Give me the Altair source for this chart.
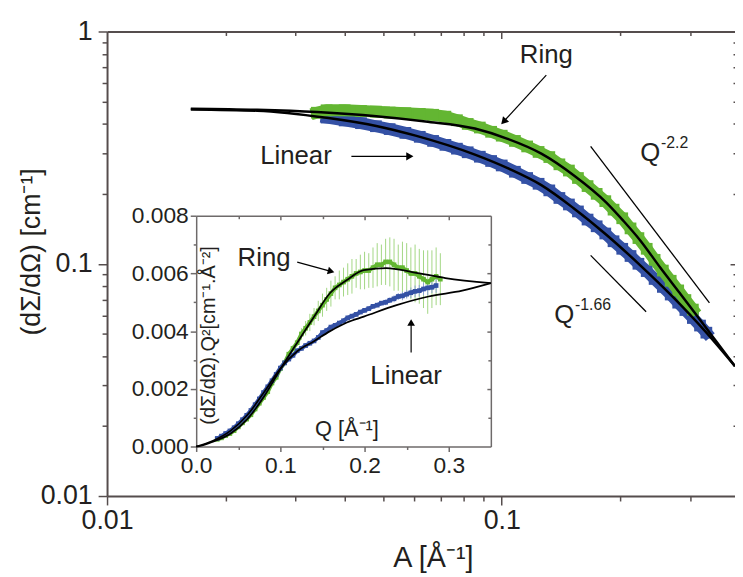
import altair as alt
import pandas as pd

FONT = "Liberation Sans"
INK = "#231f20"
AXC = "#554d4d"
IAXC = "#6e6a6a"
BLUE = "#3451a5"
GREEN = "#63b632"
GREEN_ERR = "#a3d784"
BLUE_ERR = "#8da0d8"

# ---------------- main panel (log-log) ----------------
green_q = [0.034, 0.036, 0.040, 0.044, 0.048, 0.052, 0.057, 0.062, 0.067,
           0.072, 0.077, 0.082, 0.088, 0.094, 0.100, 0.108, 0.116, 0.124, 0.132,
           0.140, 0.148, 0.156, 0.165, 0.174, 0.183, 0.192, 0.202, 0.212, 0.222,
           0.233, 0.244, 0.256, 0.268, 0.280, 0.292, 0.305]
green_i = [0.447, 0.458, 0.458, 0.455, 0.452, 0.448, 0.445, 0.442, 0.438,
           0.430, 0.415, 0.400, 0.386, 0.370, 0.356, 0.338, 0.320, 0.303, 0.288,
           0.268, 0.252, 0.234, 0.216, 0.200, 0.186, 0.171, 0.157, 0.142, 0.129,
           0.116, 0.104, 0.0935, 0.0845, 0.0768, 0.0698, 0.0635]

blue_q = [0.036, 0.040, 0.044, 0.048, 0.052, 0.057, 0.062, 0.067,
          0.072, 0.077, 0.082, 0.088, 0.094, 0.100, 0.108, 0.116, 0.124, 0.132,
          0.140, 0.148, 0.156, 0.165, 0.174, 0.183, 0.192, 0.202, 0.212, 0.222,
          0.233, 0.244, 0.256, 0.268, 0.280, 0.292, 0.305, 0.318, 0.330]
blue_i = [0.426, 0.414, 0.403, 0.391, 0.380, 0.366, 0.352, 0.338,
          0.325, 0.313, 0.302, 0.289, 0.277, 0.265, 0.249, 0.234, 0.221, 0.207,
          0.192, 0.180, 0.168, 0.155, 0.145, 0.135, 0.125, 0.116, 0.108, 0.100,
          0.093, 0.086, 0.0795, 0.0737, 0.068, 0.0632, 0.0584, 0.0542, 0.0505]

ring_fit_q = [0.0163, 0.024, 0.034, 0.0481, 0.0641, 0.0855, 0.1035, 0.126, 0.1524,
              0.1844, 0.2034, 0.2244, 0.2518, 0.2826, 0.3046, 0.39]
ring_fit_i = [0.465, 0.460, 0.450, 0.432, 0.410, 0.382, 0.345, 0.298, 0.240,
              0.183, 0.153, 0.126, 0.0966, 0.0748, 0.0633, 0.0362]

lin_fit_q = [0.0163, 0.024, 0.036, 0.0481, 0.0605, 0.0855, 0.1035, 0.126, 0.1524,
             0.1844, 0.2244, 0.2714, 0.3284, 0.39]
lin_fit_i = [0.462, 0.456, 0.425, 0.392, 0.356, 0.295, 0.258, 0.218, 0.173,
             0.133, 0.0985, 0.072, 0.051, 0.0362]

guide22_q = [0.168, 0.336]
guide22_i = [0.320, 0.0679]
guide166_q = [0.168, 0.2322]
guide166_i = [0.1087, 0.0621]

# ---------------- inset (linear) ----------------
in_green_q = [0.025, 0.03, 0.035, 0.04, 0.045, 0.05, 0.055, 0.06, 0.065, 0.07,
              0.075, 0.08, 0.085, 0.09, 0.095, 0.10, 0.105, 0.11, 0.115, 0.12,
              0.125, 0.13, 0.135, 0.14, 0.145, 0.15, 0.155, 0.16, 0.165, 0.17,
              0.175, 0.18, 0.185, 0.19, 0.195, 0.20, 0.205, 0.21, 0.215, 0.22,
              0.225, 0.23, 0.235, 0.24, 0.245, 0.25, 0.255, 0.26, 0.265, 0.27,
              0.275, 0.28, 0.285, 0.29]
in_green_v = [0.00025, 0.0003, 0.00038, 0.00045, 0.00055, 0.00068, 0.00082, 0.00095, 0.0011, 0.0013,
              0.0015, 0.0017, 0.0019, 0.0022, 0.0024, 0.0027, 0.0029, 0.0032, 0.0034, 0.0036,
              0.0039, 0.0041, 0.0043, 0.0045, 0.0047, 0.0049, 0.0051, 0.0053, 0.0055, 0.0056,
              0.0057, 0.0058, 0.0059, 0.0060, 0.00605, 0.0061, 0.0061, 0.0062, 0.0063, 0.0063,
              0.0064, 0.0064, 0.0063, 0.0062, 0.0062, 0.0061, 0.0060, 0.0060, 0.0059, 0.0058,
              0.0057, 0.0058, 0.0059, 0.0058]
in_green_err = [0.00005, 0.00005, 0.00005, 0.00005, 0.00005, 0.00005, 0.00005, 0.00005, 0.00005, 0.00005,
                0.0001, 0.0001, 0.0001, 0.0001, 0.0001, 0.0001, 0.0001, 0.0001, 0.0001, 0.0001,
                0.0002, 0.00025, 0.0003, 0.0003, 0.00035, 0.0004, 0.0004, 0.00045, 0.0004, 0.0005,
                0.0005, 0.00055, 0.0006, 0.0005, 0.0006, 0.00065, 0.0006, 0.0007, 0.00075, 0.0007,
                0.0008, 0.00085, 0.0009, 0.0008, 0.0009, 0.00095, 0.0009, 0.001, 0.00095, 0.001,
                0.0011, 0.001, 0.001, 0.0009]

in_blue_q = [0.025, 0.03, 0.035, 0.04, 0.045, 0.05, 0.055, 0.06, 0.065, 0.07,
             0.075, 0.08, 0.085, 0.09, 0.095, 0.10, 0.105, 0.11, 0.115, 0.12,
             0.125, 0.13, 0.135, 0.14, 0.145, 0.15, 0.155, 0.16, 0.165, 0.17,
             0.175, 0.18, 0.185, 0.19, 0.195, 0.20, 0.205, 0.21, 0.215, 0.22,
             0.225, 0.23, 0.235, 0.24, 0.245, 0.25, 0.255, 0.26, 0.265, 0.27,
             0.275, 0.28, 0.285]
in_blue_v = [0.00028, 0.00036, 0.00045, 0.00054, 0.00065, 0.00079, 0.00093, 0.00108, 0.00125, 0.00145,
             0.00165, 0.00187, 0.00207, 0.00228, 0.0025, 0.00272, 0.0029, 0.00303, 0.00316, 0.00332,
             0.0034, 0.0035, 0.00358, 0.00366, 0.00378, 0.00395, 0.00402, 0.00414, 0.0042, 0.00428,
             0.00436, 0.00446, 0.00452, 0.00458, 0.00466, 0.00472, 0.00478, 0.00486, 0.0049, 0.00497,
             0.005, 0.00507, 0.00512, 0.0052, 0.00522, 0.00528, 0.00533, 0.00538, 0.0054, 0.00546,
             0.0055, 0.00552, 0.00558]
in_blue_err = [0.00005, 0.00005, 0.00005, 0.00005, 0.00005, 0.00005, 0.00005, 0.00005, 0.00005, 0.00005,
               0.00005, 0.00005, 0.00005, 0.00005, 0.00005, 0.00005, 0.00005, 0.00005, 0.00005, 0.00005,
               0.00005, 0.00005, 0.00005, 0.00005, 0.00005, 0.00005, 0.00005, 0.00005, 0.00005, 0.00005,
               0.00005, 0.00005, 0.00005, 0.00005, 0.00005, 0.00005, 0.00005, 0.00005, 0.00005, 0.00005,
               0.0001, 0.0001, 0.00012, 0.00012, 0.00015, 0.00015, 0.00018, 0.0002, 0.0002, 0.00022,
               0.00025, 0.0002, 0.00025]

in_ring_fit_q = [0, 0.006, 0.02, 0.041, 0.061, 0.081, 0.100, 0.120, 0.140, 0.159,
                 0.179, 0.199, 0.226, 0.258, 0.296, 0.35]
in_ring_fit_v = [0, 0.00003, 0.00017, 0.00045, 0.00096, 0.00175, 0.00268, 0.00360, 0.00450, 0.00532,
                 0.00577, 0.00611, 0.00618, 0.00604, 0.00584, 0.00566]
in_lin_fit_q = [0, 0.02, 0.041, 0.061, 0.081, 0.100, 0.120, 0.140, 0.159, 0.179,
                0.199, 0.238, 0.276, 0.316, 0.35]
in_lin_fit_v = [0, 0.0002, 0.00055, 0.0011, 0.0019, 0.0027, 0.0033, 0.00365, 0.0040, 0.0043,
                0.0045, 0.0049, 0.0052, 0.0054, 0.00566]

# ---------------- geometry ----------------
W, H = 634, 469
xs = alt.Scale(type="log", domain=[0.01, 0.39], nice=False)
ys = alt.Scale(type="log", domain=[0.01, 1.0], nice=False)
xs_in = alt.Scale(domain=[0, 0.35], range=[90, 387.5], nice=False, zero=False)
ys_in = alt.Scale(domain=[0, 0.008], range=[419, 186], nice=False, zero=False)


def ax(**kw):
    base = dict(grid=False, labelFont=FONT, titleFont=FONT, labelColor=INK, titleColor=INK,
                domainColor=AXC, tickColor=AXC, tickWidth=1.5, labelOverlap=False,
                labelFlush=False, title=None)
    base.update(kw)
    return alt.Axis(**base)


x_minor = [0.02, 0.03, 0.04, 0.05, 0.06, 0.07, 0.08, 0.09, 0.2, 0.3]
y_minor = [0.02, 0.03, 0.04, 0.05, 0.06, 0.07, 0.08, 0.09,
           0.2, 0.3, 0.4, 0.5, 0.6, 0.7, 0.8, 0.9]

mx_major = ax(orient="bottom", values=[0.01, 0.1], labelExpr="datum.value < 0.05 ? '0.01' : '0.1'",
              tickSize=9, domainWidth=2, labelFontSize=27, labelPadding=3,
              title="A [Å⁻¹]", titleFontSize=29, titleFontWeight="normal",
              titleX=329, titleY=62, titleAlign="center", titleBaseline="middle")
mx_minor = ax(orient="bottom", values=x_minor, labels=False, tickSize=5, domain=False)
my_major = ax(orient="left", values=[0.01, 0.1, 1.0],
              labelExpr="datum.value < 0.05 ? '0.01' : (datum.value < 0.5 ? '0.1' : '1')",
              tickSize=9, domainWidth=2, labelFontSize=27, labelPadding=6,
              title="(dΣ/dΩ) [cm⁻¹]", titleFontSize=27, titleFontWeight="normal",
              titleX=-76, titleY=222, titleAngle=270, titleAlign="center", titleBaseline="middle")
my_minor = ax(orient="left", values=y_minor, labels=False, tickSize=5, domain=False)
top_major = ax(orient="bottom", offset=-H, values=[0.1], labels=False, tickSize=7, domainWidth=2)
top_minor = ax(orient="bottom", offset=-H, values=x_minor, labels=False, tickSize=4, domain=False)
right_major = ax(orient="left", offset=-(W + 3), values=[0.1], labels=False, tickSize=8, domain=False)
right_minor = ax(orient="left", offset=-(W + 3), values=y_minor, labels=False, tickSize=5, domain=False)

df_green = pd.DataFrame({"q": green_q, "i": green_i})
df_blue = pd.DataFrame({"q": blue_q, "i": blue_i})
df_ring_fit = pd.DataFrame({"q": ring_fit_q, "i": ring_fit_i})
df_lin_fit = pd.DataFrame({"q": lin_fit_q, "i": lin_fit_i})
df_guides = pd.DataFrame({"id": ["a", "a", "b", "b"],
                          "q": guide22_q + guide166_q, "i": guide22_i + guide166_i})
df_main_arrows = pd.DataFrame({"id": ["r", "r", "l", "l"],
                               "q": [0.1297, 0.1016, 0.0416, 0.0581],
                               "i": [0.649, 0.4128, 0.290, 0.290]})
df_main_heads = pd.DataFrame({"q": [0.1016, 0.0581], "i": [0.4128, 0.290], "ang": [222.6, 90]})
df_main_big = pd.DataFrame({"q": [0.1297, 0.0301], "i": [0.790, 0.290], "t": ["Ring", "Linear"]})
df_main_q = pd.DataFrame({"q": [0.2244, 0.1358], "i": [0.2988, 0.0603], "t": ["Q", "Q"]})
df_main_sup = pd.DataFrame({"q": [0.2532, 0.1533], "i": [0.3297, 0.0665], "t": ["-2.2", "-1.66"]})


def mx(axis=None):
    return alt.X("q:Q", scale=xs, axis=axis)


def my(axis=None):
    return alt.Y("i:Q", scale=ys, axis=axis)


main_layers = [
    alt.Chart(df_blue).mark_line(color=BLUE, strokeWidth=12, strokeJoin="round", strokeCap="square")
    .encode(x=mx(mx_major), y=my(my_major)),
    alt.Chart(df_blue).mark_square(color=BLUE, size=140, opacity=1)
    .encode(x=mx(mx_minor), y=my(my_minor)),
    alt.Chart(df_green).mark_line(color=GREEN, strokeWidth=12, strokeJoin="round", strokeCap="square")
    .encode(x=mx(top_major), y=my(right_major)),
    alt.Chart(df_green).mark_square(color=GREEN, size=140, opacity=1)
    .encode(x=mx(top_minor), y=my(right_minor)),
    alt.Chart(df_ring_fit).mark_line(color="black", strokeWidth=2.5, interpolate="monotone")
    .encode(x=mx(), y=my()),
    alt.Chart(df_lin_fit).mark_line(color="black", strokeWidth=2.5, interpolate="monotone")
    .encode(x=mx(), y=my()),
    alt.Chart(df_guides).mark_line(color="black", strokeWidth=1.3)
    .encode(x=mx(), y=my(), detail="id:N"),
    alt.Chart(df_main_arrows).mark_line(color="black", strokeWidth=1.2)
    .encode(x=mx(), y=my(), detail="id:N"),
    alt.Chart(df_main_heads).mark_point(shape="triangle", size=70, filled=True, color="black",
                                        opacity=1, strokeWidth=0)
    .encode(x=mx(), y=my(), angle=alt.Angle("ang:Q", scale=None)),
    alt.Chart(df_main_big).mark_text(font=FONT, fontSize=26, color=INK, align="center", baseline="middle")
    .encode(x=mx(), y=my(), text="t:N"),
    alt.Chart(df_main_q).mark_text(font=FONT, fontSize=26, color=INK, align="left", baseline="middle")
    .encode(x=mx(), y=my(), text="t:N"),
    alt.Chart(df_main_sup).mark_text(font=FONT, fontSize=16, color=INK, align="left", baseline="middle")
    .encode(x=mx(), y=my(), text="t:N"),
]
main = alt.layer(*main_layers).resolve_axis(x="independent", y="independent")

# ---------------- inset ----------------
ix_major = ax(orient="bottom", offset=-50, values=[0, 0.1, 0.2, 0.3], format=".1f", tickSize=5,
              labelFontSize=23, labelPadding=3, domainWidth=1.5, domainColor=IAXC, tickColor=IAXC)
ix_minor = ax(orient="bottom", offset=-50, values=[0.05, 0.15, 0.25], labels=False, tickSize=3,
              domain=False, tickColor=IAXC)
iy_major = ax(orient="left", offset=-90, values=[0, 0.002, 0.004, 0.006, 0.008], format=".3f",
              tickSize=6, labelFontSize=23, labelPadding=2, domainWidth=1.5, domainColor=IAXC,
              tickColor=IAXC)
iy_minor = ax(orient="left", offset=-90, values=[0.001, 0.003, 0.005, 0.007], labels=False,
              tickSize=3, domain=False, tickColor=IAXC)
itop_major = ax(orient="bottom", offset=-283, values=[0.1, 0.2, 0.3], labels=False, tickSize=4,
                domainWidth=1.5, domainColor=IAXC, tickColor=IAXC)
itop_minor = ax(orient="bottom", offset=-283, values=[0.05, 0.15, 0.25], labels=False, tickSize=3,
                domain=False, tickColor=IAXC)
iright_major = ax(orient="left", offset=-387.5, values=[0.002, 0.004, 0.006], labels=False,
                  tickSize=4, domainWidth=1.5, domainColor=IAXC, tickColor=IAXC)
iright_minor = ax(orient="left", offset=-387.5, values=[0.001, 0.003, 0.005, 0.007], labels=False,
                  tickSize=3, domain=False, tickColor=IAXC)

df_ig = pd.DataFrame({"q": in_green_q, "v": in_green_v, "e": in_green_err})
df_ig["lo"] = df_ig["v"] - df_ig["e"]
df_ig["hi"] = df_ig["v"] + df_ig["e"]
df_ib = pd.DataFrame({"q": in_blue_q, "v": in_blue_v, "e": in_blue_err})
df_ib["lo"] = df_ib["v"] - df_ib["e"]
df_ib["hi"] = df_ib["v"] + df_ib["e"]
df_irf = pd.DataFrame({"q": in_ring_fit_q, "v": in_ring_fit_v})
df_ilf = pd.DataFrame({"q": in_lin_fit_q, "v": in_lin_fit_v})
df_in_arrows = pd.DataFrame({"id": ["r", "r", "l", "l"],
                             "q": [0.12, 0.159, 0.2553, 0.2553],
                             "v": [0.00639, 0.00608, 0.00326, 0.00426]})
df_in_heads = pd.DataFrame({"q": [0.159, 0.2553], "v": [0.00608, 0.00426], "ang": [105, 0]})
df_in_big = pd.DataFrame({"q": [0.0806, 0.2494], "v": [0.00652, 0.00244], "t": ["Ring", "Linear"]})
df_in_xt = pd.DataFrame({"q": [0.179], "v": [0.00062], "t": ["Q [Å⁻¹]"]})
df_in_yt = pd.DataFrame({"q": [0.0153], "v": [0.00385], "t": ["(dΣ/dΩ).Q²[cm⁻¹.Å⁻²]"]})


def ix(axis=None):
    return alt.X("q:Q", scale=xs_in, axis=axis)


def iy(field="v:Q", axis=None):
    return alt.Y(field, scale=ys_in, axis=axis)


inset_layers = [
    alt.Chart(df_ig).mark_rule(color=GREEN_ERR, strokeWidth=1)
    .encode(x=ix(ix_major), y=iy("lo:Q", iy_major), y2="hi:Q"),
    alt.Chart(df_ib).mark_rule(color=BLUE_ERR, strokeWidth=1)
    .encode(x=ix(ix_minor), y=iy("lo:Q", iy_minor), y2="hi:Q"),
    alt.Chart(df_ig).mark_line(color=GREEN, strokeWidth=4)
    .encode(x=ix(), y=iy()),
    alt.Chart(df_ig).mark_square(color=GREEN, size=22, opacity=1)
    .encode(x=ix(itop_major), y=iy("v:Q", iright_major)),
    alt.Chart(df_ib).mark_line(color=BLUE, strokeWidth=4)
    .encode(x=ix(), y=iy()),
    alt.Chart(df_ib).mark_square(color=BLUE, size=22, opacity=1)
    .encode(x=ix(itop_minor), y=iy("v:Q", iright_minor)),
    alt.Chart(df_irf).mark_line(color="black", strokeWidth=1.8, interpolate="monotone")
    .encode(x=ix(), y=iy()),
    alt.Chart(df_ilf).mark_line(color="black", strokeWidth=1.8, interpolate="monotone")
    .encode(x=ix(), y=iy()),
    alt.Chart(df_in_arrows).mark_line(color="black", strokeWidth=1.2)
    .encode(x=ix(), y=iy(), detail="id:N"),
    alt.Chart(df_in_heads).mark_point(shape="triangle", size=60, filled=True, color="black",
                                      opacity=1, strokeWidth=0)
    .encode(x=ix(), y=iy(), angle=alt.Angle("ang:Q", scale=None)),
    alt.Chart(df_in_big).mark_text(font=FONT, fontSize=26, color=INK, align="center", baseline="middle")
    .encode(x=ix(), y=iy(), text="t:N"),
    alt.Chart(df_in_xt).mark_text(font=FONT, fontSize=22, color=INK, align="center", baseline="middle")
    .encode(x=ix(), y=iy(), text="t:N"),
    alt.Chart(df_in_yt).mark_text(font=FONT, fontSize=20, color=INK, align="center", baseline="middle",
                                  angle=270)
    .encode(x=ix(), y=iy(), text="t:N"),
]
inset = alt.layer(*inset_layers).resolve_axis(x="independent", y="independent")

chart = (
    alt.layer(main, inset)
    .resolve_scale(x="independent", y="independent")
    .properties(width=W, height=H, autosize="none",
                padding={"left": 100, "top": 21, "right": 0, "bottom": 76},
                background="white")
    .configure_view(stroke=None)
)

chart.save("out.html", embed_options={"renderer": "svg", "actions": False})
